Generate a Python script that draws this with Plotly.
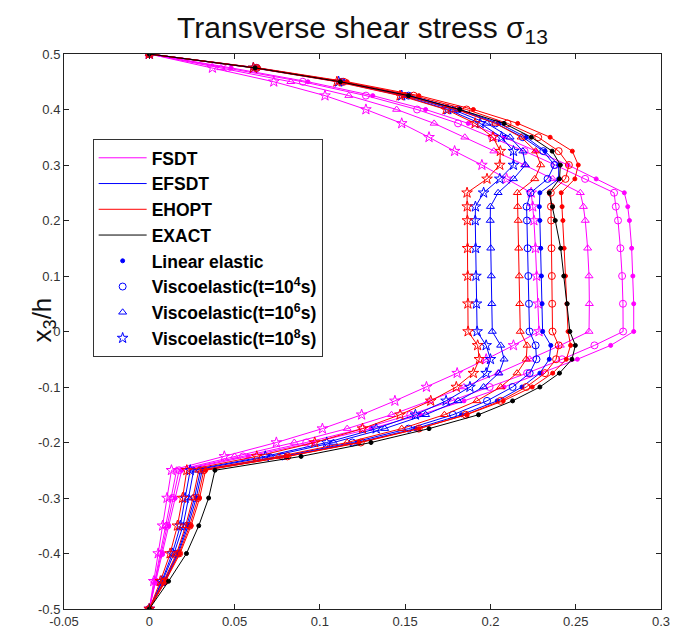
import plotly.graph_objects as go

# Through-thickness coordinate x3/h (shared by all curves)
y_levels = [0.5, 0.475, 0.45, 0.425, 0.4, 0.375, 0.35, 0.325, 0.3, 0.275, 0.25,
            0.225, 0.2, 0.15, 0.1, 0.05, 0.0,
            -0.025, -0.05, -0.075, -0.1, -0.125, -0.15, -0.175, -0.2, -0.225, -0.25,
            -0.3, -0.35, -0.4, -0.45, -0.5]

# FSDT (magenta)
fsdt_elastic = [0, 0.048, 0.093, 0.131, 0.162, 0.187, 0.208, 0.2265, 0.2455, 0.262, 0.2785,
                0.2805, 0.2815, 0.2828, 0.2835, 0.2840, 0.2840,
                0.2705, 0.2510, 0.2300, 0.2080, 0.1845, 0.1590, 0.1300, 0.0960, 0.0580, 0.0190,
                0.0152, 0.0114, 0.0076, 0.0038, 0]
fsdt_t4 = [0, 0.046, 0.090, 0.127, 0.157, 0.181, 0.201, 0.220, 0.238, 0.2555, 0.2725,
           0.2735, 0.2748, 0.2762, 0.2772, 0.2777, 0.2778,
           0.2610, 0.2420, 0.2215, 0.1995, 0.1770, 0.1530, 0.1250, 0.0920, 0.0550, 0.0175,
           0.0140, 0.0105, 0.0070, 0.0035, 0]
fsdt_t6 = [0, 0.042, 0.083, 0.117, 0.145, 0.167, 0.185, 0.202, 0.220, 0.2365, 0.2527,
           0.2545, 0.2556, 0.2570, 0.2578, 0.2580, 0.2578,
           0.2410, 0.2230, 0.2045, 0.1845, 0.1640, 0.1420, 0.1160, 0.0850, 0.0500, 0.0160,
           0.0128, 0.0096, 0.0064, 0.0032, 0]
fsdt_t8 = [0, 0.037, 0.073, 0.103, 0.127, 0.148, 0.164, 0.179, 0.195, 0.2095, 0.2239,
           0.2248, 0.2255, 0.2264, 0.2271, 0.2280, 0.2285,
           0.2135, 0.1975, 0.1805, 0.1625, 0.1440, 0.1245, 0.1015, 0.0745, 0.0440, 0.0130,
           0.0104, 0.0078, 0.0052, 0.0026, 0]

# EFSDT (blue)
efsdt_elastic = [0, 0.063, 0.114, 0.153, 0.182, 0.205, 0.221, 0.232, 0.2400, 0.2400, 0.2290,
                 0.2287, 0.2290, 0.2295, 0.2299, 0.2303, 0.2306,
                 0.2354, 0.2345, 0.2290, 0.2185, 0.2040, 0.1830, 0.1560, 0.1220, 0.0800, 0.0310,
                 0.0275, 0.0228, 0.0170, 0.0090, 0]
efsdt_t4 = [0, 0.063, 0.113, 0.152, 0.181, 0.203, 0.219, 0.231, 0.2375, 0.2335, 0.2235,
            0.2212, 0.2214, 0.2218, 0.2222, 0.2226, 0.2229,
            0.2265, 0.2270, 0.2230, 0.2130, 0.1980, 0.1780, 0.1520, 0.1190, 0.0780, 0.0300,
            0.0265, 0.0220, 0.0165, 0.0087, 0]
efsdt_t6 = [0, 0.062, 0.112, 0.150, 0.178, 0.198, 0.2115, 0.219, 0.2205, 0.2135, 0.2045,
            0.2000, 0.1999, 0.2002, 0.2005, 0.2008, 0.2011,
            0.2060, 0.2080, 0.2050, 0.1960, 0.1810, 0.1620, 0.1380, 0.1080, 0.0710, 0.0260,
            0.0230, 0.0198, 0.0145, 0.0077, 0]
efsdt_t8 = [0, 0.061, 0.111, 0.148, 0.175, 0.194, 0.2065, 0.2135, 0.2135, 0.2055, 0.1960,
            0.1912, 0.1911, 0.1913, 0.1915, 0.1918, 0.1922,
            0.1975, 0.2000, 0.1975, 0.1880, 0.1740, 0.1560, 0.1330, 0.1040, 0.0680, 0.0240,
            0.0210, 0.0182, 0.0135, 0.0073, 0]

# EHOPT (red)
ehopt_elastic = [0, 0.064, 0.116, 0.158, 0.190, 0.216, 0.235, 0.248, 0.2515, 0.2495, 0.2415,
                 0.2420, 0.2425, 0.2432, 0.2440, 0.2448, 0.2455,
                 0.2470, 0.2445, 0.2365, 0.2245, 0.2075, 0.1860, 0.1580, 0.1230, 0.0810, 0.0330,
                 0.0295, 0.0245, 0.0180, 0.0095, 0]
ehopt_t4 = [0, 0.063, 0.114, 0.155, 0.186, 0.210, 0.228, 0.240, 0.246, 0.244, 0.2354,
            0.2355, 0.2356, 0.2358, 0.2360, 0.2362, 0.2364,
            0.2400, 0.2385, 0.2320, 0.2210, 0.2060, 0.1855, 0.1580, 0.1240, 0.0810, 0.0320,
            0.0285, 0.0237, 0.0175, 0.0092, 0]
ehopt_t6 = [0, 0.062, 0.112, 0.150, 0.180, 0.203, 0.218, 0.2265, 0.2295, 0.226, 0.2158,
            0.2160, 0.2163, 0.2166, 0.2169, 0.2172, 0.2175,
            0.2215, 0.2210, 0.2156, 0.2060, 0.1920, 0.1730, 0.1480, 0.1160, 0.0760, 0.0290,
            0.0256, 0.0213, 0.0160, 0.0084, 0]
ehopt_t8 = [0, 0.061, 0.110, 0.147, 0.174, 0.191, 0.2015, 0.2058, 0.2055, 0.198, 0.1863,
            0.1864, 0.1865, 0.1866, 0.1867, 0.1868, 0.1869,
            0.1925, 0.1935, 0.1900, 0.1800, 0.1650, 0.1470, 0.1250, 0.0970, 0.0630, 0.0220,
            0.0195, 0.0165, 0.0122, 0.0065, 0]

# EXACT (black, linear elastic only)
exact_elastic = [0, 0.062, 0.112, 0.152, 0.182, 0.208, 0.224, 0.2362, 0.2410, 0.2405, 0.2345,
                 0.2364, 0.2380, 0.2412, 0.2430, 0.2450, 0.2466,
                 0.2498, 0.2478, 0.2405, 0.2290, 0.2130, 0.1930, 0.1640, 0.1300, 0.0890, 0.0385,
                 0.0348, 0.0290, 0.0218, 0.0113, 0]

theory_names = ["FSDT", "EFSDT", "EHOPT", "EXACT"]
case_names = ["Linear elastic", "Viscoelastic(t=10<sup>4</sup>s)",
              "Viscoelastic(t=10<sup>6</sup>s)", "Viscoelastic(t=10<sup>8</sup>s)"]

theory_color = {"FSDT": "#FF00FF", "EFSDT": "#0000FF", "EHOPT": "#FF0000", "EXACT": "#000000"}
case_marker = {0: ("circle", 4), 1: ("circle-open", 7), 2: ("triangle-up-open", 7), 3: ("star-open", 8)}

series = [
    ("FSDT", 0, fsdt_elastic), ("FSDT", 1, fsdt_t4), ("FSDT", 2, fsdt_t6), ("FSDT", 3, fsdt_t8),
    ("EFSDT", 0, efsdt_elastic), ("EFSDT", 1, efsdt_t4), ("EFSDT", 2, efsdt_t6), ("EFSDT", 3, efsdt_t8),
    ("EHOPT", 0, ehopt_elastic), ("EHOPT", 1, ehopt_t4), ("EHOPT", 2, ehopt_t6), ("EHOPT", 3, ehopt_t8),
    ("EXACT", 0, exact_elastic),
]

fig = go.Figure()
for theory, case, xs in series:
    sym, size = case_marker[case]
    col = theory_color[theory]
    fig.add_trace(go.Scatter(
        x=xs, y=y_levels, mode="lines+markers", showlegend=False,
        line=dict(color=col, width=1),
        marker=dict(symbol=sym, size=size, color=col, line=dict(color=col, width=1)),
        hoverinfo="skip"))

# legend entries
for theory in theory_names:
    fig.add_trace(go.Scatter(x=[None], y=[None], mode="lines", name=theory,
                             line=dict(color=theory_color[theory], width=1)))
for case, name in enumerate(case_names):
    sym, size = case_marker[case]
    fig.add_trace(go.Scatter(x=[None], y=[None], mode="markers", name=name,
                             marker=dict(symbol=sym, size=size, color="#0000FF",
                                         line=dict(color="#0000FF", width=1))))

x_ticks = [-0.05, 0, 0.05, 0.1, 0.15, 0.2, 0.25, 0.3]
x_ticktext = ["-0.05", "0", "0.05", "0.1", "0.15", "0.2", "0.25", "0.3"]
y_ticks = [-0.5, -0.4, -0.3, -0.2, -0.1, 0, 0.1, 0.2, 0.3, 0.4, 0.5]
y_ticktext = ["-0.5", "-0.4", "-0.3", "-0.2", "-0.1", "0", "0.1", "0.2", "0.3", "0.4", "0.5"]

axis_common = dict(showgrid=False, zeroline=False, showline=True, linecolor="#222222",
                   linewidth=1, mirror="ticks", ticks="inside", ticklen=5, tickcolor="#222222",
                   ticklabeloverflow="allow",
                   tickfont=dict(family="Arial, Liberation Sans", size=13, color="#333333"))

fig.update_layout(
    width=673, height=632,
    margin=dict(l=64, r=3, t=54, b=22),
    paper_bgcolor="white", plot_bgcolor="white",
    title=dict(text="Transverse shear stress σ<sub>13</sub>",
               font=dict(family="Arial, Liberation Sans", size=30, color="#111111"),
               x=0.5, xref="paper", xanchor="center", y=1 - 27 / 632, yref="container", yanchor="middle"),
    xaxis=dict(range=[-0.05, 0.3], tickvals=x_ticks, ticktext=x_ticktext, **axis_common),
    yaxis=dict(range=[-0.5, 0.5], tickvals=y_ticks, ticktext=y_ticktext, **axis_common),
    legend=dict(x=0.048, y=0.847, xanchor="left", yanchor="top",
                bordercolor="#333333", borderwidth=1, bgcolor="white",
                font=dict(family="Arial, Liberation Sans", size=17.5, color="#000000", weight="bold"),
                itemwidth=48, tracegroupgap=0),
    annotations=[dict(text="x<sub>3</sub>/h", textangle=-90, xref="paper", yref="paper",
                      x=-0.066, y=0.52, showarrow=False,
                      font=dict(family="Arial, Liberation Sans", size=26, color="#111111"))],
)

fig.write_html("out.html")
